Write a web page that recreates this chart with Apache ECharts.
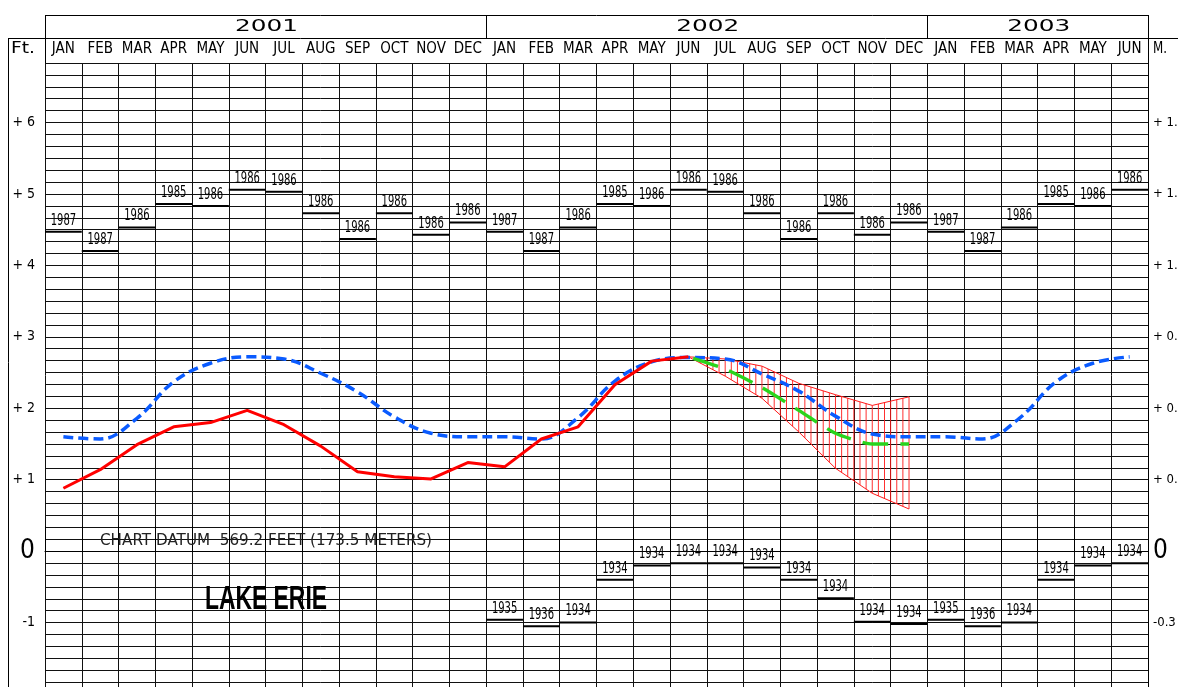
<!DOCTYPE html>
<html><head><meta charset="utf-8">
<script src="https://cdn.jsdelivr.net/npm/echarts@6/dist/echarts.min.js"></script>
<style>html,body{margin:0;padding:0;background:#fff;overflow:hidden}#c{width:1178px;height:687px}</style>
</head><body><div id="c"></div>
<script>
// ---------------- DATA ----------------
const years = ['2001', '2002', '2003'];
const yearMonthCounts = [12, 12, 6];
const months = ['JAN','FEB','MAR','APR','MAY','JUN','JUL','AUG','SEP','OCT','NOV','DEC',
                'JAN','FEB','MAR','APR','MAY','JUN','JUL','AUG','SEP','OCT','NOV','DEC',
                'JAN','FEB','MAR','APR','MAY','JUN'];
// long-term average level (ft above chart datum)
const avgLevel = [1.60,1.57,1.86,2.37,2.63,2.72,2.69,2.49,2.23,1.88,1.65,1.60,
                  1.60,1.57,1.87,2.38,2.65,2.71,2.69,2.48,2.24,1.89,1.64,1.60,
                  1.60,1.57,1.86,2.37,2.63,2.72];
// recorded levels
const actualLevel = [0.88,1.14,1.49,1.74,1.80,1.97,1.77,1.47,1.11,1.04,1.01,1.24,
                     1.18,1.57,1.74,2.33,2.66,2.72,
                     null,null,null,null,null,null,null,null,null,null,null,null];
// forecast (JUN..DEC 2002)
const forecastProbable = [null,null,null,null,null,null,null,null,null,null,null,null,
                          null,null,null,null,null,2.72,2.55,2.29,1.97,1.65,1.50,1.50,
                          null,null,null,null,null,null];
const forecastUpper = [null,null,null,null,null,null,null,null,null,null,null,null,
                       null,null,null,null,null,2.72,2.69,2.59,2.35,2.19,2.04,2.16,
                       null,null,null,null,null,null];
const forecastLower = [null,null,null,null,null,null,null,null,null,null,null,null,
                       null,null,null,null,null,2.72,2.45,2.14,1.67,1.16,0.81,0.59,
                       null,null,null,null,null,null];
// record highs / lows
const recordHigh = [4.47,4.20,4.53,4.86,4.83,5.06,5.03,4.73,4.37,4.73,4.43,4.60,
                    4.47,4.20,4.53,4.86,4.83,5.06,5.03,4.73,4.37,4.73,4.43,4.60,
                    4.47,4.20,4.53,4.86,4.83,5.06];
const recordHighYear = ['1987','1987','1986','1985','1986','1986','1986','1986','1986','1986','1986','1986',
                        '1987','1987','1986','1985','1986','1986','1986','1986','1986','1986','1986','1986',
                        '1987','1987','1986','1985','1986','1986'];
const recordLow = [null,null,null,null,null,null,null,null,null,null,null,null,
                   -0.96,-1.05,-1.00,-0.40,-0.20,-0.17,-0.17,-0.23,-0.40,-0.66,-0.99,-1.02,
                   -0.96,-1.05,-1.00,-0.40,-0.20,-0.17];
const recordLowYear = [null,null,null,null,null,null,null,null,null,null,null,null,
                       '1935','1936','1934','1934','1934','1934','1934','1934','1934','1934','1934','1934',
                       '1935','1936','1934','1934','1934','1934'];
const ftTicks = [6, 5, 4, 3, 2, 1, 0, -1];
const ftLabels = ['+ 6','+ 5','+ 4','+ 3','+ 2','+ 1','0','-1'];
const mLabels = ['+ 1.8','+ 1.5','+ 1.2','+ 0.9','+ 0.6','+ 0.3','0','-0.3'];
const unitLeft = 'Ft.', unitRight = 'M.';
const datumText = 'CHART DATUM  569.2 FEET (173.5 METERS)';
const lakeName = 'LAKE ERIE';

// ---------------- LAYOUT ----------------
const GL = 45, GT = 63, GW = 1103, GH = 631;
const GR = GL + GW;
const MW = GW / months.length;
const NARROW = "'Liberation Sans Narrow','DejaVu Sans Condensed',sans-serif";
const THIN = "'DejaVu Sans',sans-serif";

const mctx = document.createElement('canvas').getContext('2d');
function fitText(str, cx, cy, size, family, weight, targetW, color) {
  mctx.font = weight + ' ' + size + 'px ' + family;
  const w = mctx.measureText(str).width || 1;
  return {type:'text', x:cx, y:cy, scaleX: targetW / w, z: 50, silent: true,
    style:{text:str, fontSize:size, fontFamily:family, fontWeight:weight, fill:color || '#000',
      align:'center', verticalAlign:'middle', textAlign:'center', textVerticalAlign:'middle'}};
}
function hline(x1, x2, y, w) { return {type:'line', silent:true, z:40, shape:{x1:x1, y1:y, x2:x2, y2:y}, style:{stroke:'#000', lineWidth:w || 1}}; }
function vline(x, y1, y2, w) { return {type:'line', silent:true, z:40, shape:{x1:x, y1:y1, x2:x, y2:y2}, style:{stroke:'#000', lineWidth:w || 1}}; }

const graphics = [];
graphics.push(hline(GL, GR, 15.5));
graphics.push(hline(8, 1178, 38.5));
graphics.push(vline(GL + 0.5, 15, GT));
graphics.push(vline(GR + 0.5, 15, 687));
graphics.push(vline(8.5, 38, 687));
let acc = 0;
years.forEach((y, i) => {
  const x0 = GL + acc * MW, x1 = GL + (acc + yearMonthCounts[i]) * MW;
  if (i > 0) graphics.push(vline(Math.round(x0) + 0.5, 15, 38));
  graphics.push(fitText(y, (x0 + x1) / 2 + 1, 27, 16, THIN, 'normal', 63, '#000'));
  acc += yearMonthCounts[i];
});
graphics.push(fitText(unitLeft, 23, 49, 15, NARROW, 'normal', 24, '#000'));
graphics.push(fitText(unitRight, 1160, 49, 15, NARROW, 'normal', 14, '#000'));
graphics.push(fitText(datumText, 266, 541, 15, THIN, 'normal', 332, '#222'));
graphics.push(fitText(lakeName, 266, 600, 33, "'Liberation Sans',sans-serif", 'bold', 122, '#000'));

function recordSeries(values, labels, name) {
  return {
    type:'custom', name:name, silent:true, z:6, clip:false,
    encode:{x:0, y:1},
    data: values.map((v, i) => [i, v == null ? NaN : v]),
    renderItem(params, api) {
      const v = api.value(1);
      if (isNaN(v)) return null;
      const i = params.dataIndex;
      const c = api.coord([i, v]);
      const w = api.size([1, 0])[0];
      return {type:'group', children:[
        {type:'line', shape:{x1:c[0] - w / 2, y1:c[1], x2:c[0] + w / 2, y2:c[1]}, style:{stroke:'#000', lineWidth:2}},
        {type:'text', x:c[0], y:c[1] - 3.5, scaleX:0.74,
          style:{text:labels[i], fontSize:15, fontFamily:NARROW, fill:'#000', align:'center', verticalAlign:'bottom'}}
      ]};
    }
  };
}

const hatchData = [];
for (let i = 0; i < months.length - 1; i++) {
  if (forecastUpper[i] != null && forecastUpper[i + 1] != null) {
    hatchData.push([i, forecastUpper[i], forecastLower[i], forecastUpper[i + 1], forecastLower[i + 1]]);
  }
}

function axisFmt(labels) {
  return v => {
    const i = ftTicks.findIndex(t => Math.abs(t - v) < 1e-3);
    if (i < 0) return '';
    return ftTicks[i] === 0 ? '{big|' + labels[i] + '}' : labels[i];
  };
}

const option = {
  animation: false,
  backgroundColor: '#fff',
  grid: {left: GL, top: GT, width: GW, height: GH, containLabel: false, outerBoundsMode: 'none', show: false},
  xAxis: {
    type: 'category', data: months, position: 'top', boundaryGap: true,
    axisLine: {show: true, lineStyle: {color: '#000', width: 1}},
    axisTick: {show: true, length: 25, inside: false, interval: 0, lineStyle: {color: '#000', width: 1}},
    axisLabel: {show: true, interval: 0, margin: 6.5, fontSize: 15, fontFamily: NARROW, color: '#000'},
    splitLine: {show: true, interval: 0, lineStyle: {color: '#111', width: 1}}
  },
  yAxis: [{
    type: 'value', min: -2, max: 41 / 6, interval: 1 / 6, position: 'left',
    axisLine: {show: false}, axisTick: {show: false},
    splitLine: {show: true, lineStyle: {color: '#111', width: 1}},
    axisLabel: {
      show: true, margin: 10, fontSize: 14, fontFamily: NARROW, color: '#000',
      formatter: axisFmt(ftLabels),
      rich: {big: {fontSize: 26, fontFamily: NARROW, color: '#000', fontWeight: 'lighter'}}
    }
  }, {
    type: 'value', min: -2, max: 41 / 6, interval: 1 / 6, position: 'right',
    axisLine: {show: false}, axisTick: {show: false}, splitLine: {show: false},
    axisLabel: {
      show: true, margin: 5, fontSize: 13, fontFamily: NARROW, color: '#000',
      overflow: 'none', width: 200,
      formatter: axisFmt(mLabels),
      rich: {big: {fontSize: 26, fontFamily: NARROW, color: '#000', fontWeight: 'lighter'}}
    }
  }],
  graphic: {elements: graphics},
  series: [
    recordSeries(recordHigh, recordHighYear, 'Record high'),
    recordSeries(recordLow, recordLowYear, 'Record low'),
    {
      type: 'custom', name: 'Forecast range', silent: true, z: 3, clip: false,
      encode: {x: 0, y: 1},
      data: hatchData,
      renderItem(params, api) {
        const i = api.value(0);
        const u0 = api.coord([i, api.value(1)]), l0 = api.coord([i, api.value(2)]);
        const u1 = api.coord([i + 1, api.value(3)]), l1 = api.coord([i + 1, api.value(4)]);
        const n = 6, children = [];
        for (let k = 1; k <= n; k++) {
          const t = k / n;
          const x = u0[0] + (u1[0] - u0[0]) * t;
          const yu = u0[1] + (u1[1] - u0[1]) * t;
          const yl = l0[1] + (l1[1] - l0[1]) * t;
          children.push({type: 'line', shape: {x1: x, y1: yu, x2: x, y2: yl}, style: {stroke: '#ff1a1a', lineWidth: 1, opacity: 0.9}});
        }
        return {type: 'group', children};
      }
    },
    {type: 'line', name: 'Upper', data: forecastUpper, symbol: 'none', z: 3, silent: true,
      lineStyle: {color: '#ff1a1a', width: 1}},
    {type: 'line', name: 'Lower', data: forecastLower, symbol: 'none', z: 3, silent: true,
      lineStyle: {color: '#ff1a1a', width: 1}},
    {type: 'line', name: 'Average', data: avgLevel, symbol: 'none', smooth: 0.4, z: 4, silent: true,
      lineStyle: {color: '#0a5bff', width: 3.5, type: [10, 5]}},
    {type: 'line', name: 'Recorded', data: actualLevel, symbol: 'none', z: 5, silent: true,
      lineStyle: {color: '#ff0000', width: 3}},
    {type: 'line', name: 'Forecast', data: forecastProbable, symbol: 'none', z: 5, silent: true, smooth: 0.2,
      lineStyle: {color: '#2ad41c', width: 3.4, type: [26, 12], dashOffset: -5}}
  ]
};
const chart = echarts.init(document.getElementById('c'), null, {renderer: 'canvas'});
chart.setOption(option);
</script>
</body></html>
